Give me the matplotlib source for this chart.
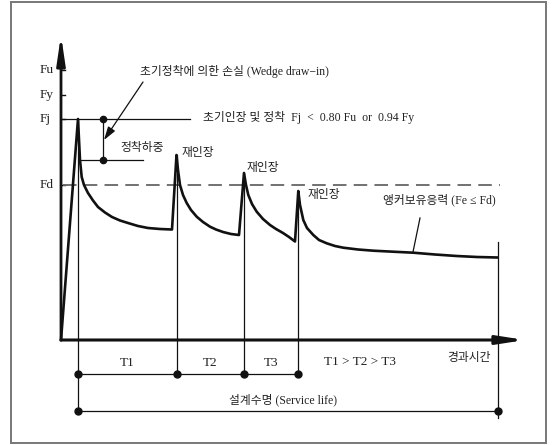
import matplotlib
matplotlib.use("Agg")
import matplotlib.pyplot as plt
from matplotlib.patches import Rectangle

plt.rcParams['font.family'] = ['Liberation Serif', 'Noto Sans CJK KR', 'DejaVu Sans']

# force levels on the vertical axis (schematic units)
level_names = ['Fu', 'Fy', 'Fj', 'Fd']
level_values = [270, 245, 221, 155]
anchor_load = 180          # 정착하중

# time of initial stressing and the three re-stressings, end of service life
stress_times = [17, 115.5, 183, 237.3]
stress_peaks = [221, 185, 167, 149]
end_time = 436.5
end_force = 82.5

# force-time curve
curve_t = [0, 17, 19, 19.5, 20.7, 23, 27, 32, 37, 44, 51, 59, 67, 77, 87, 99, 111,
           115.5, 117, 119, 122, 125.7, 130, 135.7, 142, 149, 155, 162, 170, 178,
           183, 185, 187.3, 191, 195.7, 202, 209, 215, 222, 228, 234,
           237.3, 239, 242.3, 246, 252.3, 258, 265.7, 274, 282.3, 297, 312.3, 332,
           352.3, 374, 395.7, 416, 436.5]
curve_F = [0, 221, 180, 175, 163, 155, 147, 139.5, 133, 127.5, 123, 119.5, 117, 114, 112, 111, 110.5,
           185, 170, 155, 145, 137, 130, 123.3, 118, 113.3, 110.5, 108, 106, 105,
           167, 155, 145, 136, 128.3, 121, 115, 111, 107, 103, 98.5,
           149, 135, 120, 112, 105, 100, 96.7, 94, 92.3, 90.5, 89.3, 88.3,
           87.3, 85.5, 84, 83, 82.5]

period_labels = ['T1', 'T2', 'T3']

fig = plt.figure(figsize=(5.56, 4.45), dpi=100)
ax = fig.add_axes([0, 0, 1, 1])
ax.set_xlim(-61, 495)
ax.set_ylim(-105, 340)
ax.axis('off')

# outer frame
fig.patches.append(Rectangle((11 / 556, 2 / 445), 535 / 556, 441 / 445, transform=fig.transFigure,
                             fill=False, edgecolor='#777777', lw=1.4))

ink = '#111111'
txt = '#222222'

# axes with arrows
ax.annotate('', xy=(0, 305), xytext=(0, 0),
            arrowprops=dict(arrowstyle='-|>,head_length=1.7,head_width=0.25', mutation_scale=10,
                            lw=2.0, color=ink, shrinkA=0, shrinkB=0))
ax.annotate('', xy=(464, 0), xytext=(0, 0),
            arrowprops=dict(arrowstyle='-|>,head_length=1.6,head_width=0.25', mutation_scale=10,
                            lw=2.2, color=ink, shrinkA=0, shrinkB=0))

# level ticks and labels
for name, val in zip(level_names, level_values):
    ax.plot([0, 4], [val, val], color=ink, lw=1.0)
    ax.text(-21, val, name, ha='left', va='center', fontsize=9.5, color=txt)

# Fj line and Fd dashed line
Fj = level_values[2]
Fd = level_values[3]
ax.plot([0, 129], [Fj, Fj], color=ink, lw=0.9)
ax.plot([2, 439], [Fd, Fd], color='#666666', lw=1.3, linestyle=(0, (7.5, 4)))

# anchoring load line and wedge draw-in dimension
ax.plot([19, 82], [anchor_load, anchor_load], color=ink, lw=0.9)
ax.plot([42, 42], [Fj, anchor_load], color=ink, lw=0.9, marker='o', ms=4.5)
ax.annotate('', xy=(43, 200), xytext=(82, 258),
            arrowprops=dict(arrowstyle='-|>,head_length=0.8,head_width=0.25', mutation_scale=10,
                            lw=0.9, color=ink, shrinkA=0, shrinkB=0))

# thin vertical extension lines
ax.plot([stress_times[0]] * 2, [Fj, -72], color=ink, lw=0.9)
for t, p in zip(stress_times[1:], stress_peaks[1:]):
    ax.plot([t, t], [p, -34], color=ink, lw=0.9)
ax.plot([end_time] * 2, [98, -78], color=ink, lw=0.9)

# dimension lines
ax.plot([stress_times[0], stress_times[-1]], [-34, -34], color=ink, lw=0.9)
ax.plot(stress_times, [-34] * len(stress_times), 'o', color=ink, ms=5)
ax.plot([stress_times[0], end_time], [-71, -71], color=ink, lw=0.9)
ax.plot([stress_times[0], end_time], [-71, -71], 'o', color=ink, ms=5)

# main force curve
ax.plot(curve_t, curve_F, color=ink, lw=1.9, solid_joinstyle='round')

# leader to residual force
ax.plot([359, 352], [122, 88], color=ink, lw=0.9)

# texts
fs = 8.5
ax.text(79, 268, '초기정착에 의한 손실 (Wedge draw−in)', ha='left', va='center', fontsize=fs, color=txt)
ax.text(142, 223, '초기인장 및 정착  Fj  <  0.80 Fu  or  0.94 Fy', ha='left', va='center', fontsize=fs, color=txt)
ax.text(59, 192, '정착하중', ha='left', va='center', fontsize=fs, color=txt)
ax.text(121, 187, '재인장', ha='left', va='center', fontsize=fs, color=txt)
ax.text(186, 172, '재인장', ha='left', va='center', fontsize=fs, color=txt)
ax.text(247, 145, '재인장', ha='left', va='center', fontsize=fs, color=txt)
ax.text(322, 140, '앵커보유응력 (Fe ≤ Fd)', ha='left', va='center', fontsize=fs, color=txt)

for i, lab in enumerate(period_labels):
    mid = (stress_times[i] + stress_times[i + 1]) / 2
    ax.text(mid, -23, lab, ha='center', va='center', fontsize=9.5, color=txt)
ax.text(299, -22, 'T1 > T2 > T3', ha='center', va='center', fontsize=9.5, color=txt)
ax.text(408, -18, '경과시간', ha='center', va='center', fontsize=fs, color=txt)
ax.text(222, -60, '설계수명 (Service life)', ha='center', va='center', fontsize=fs, color=txt)

fig.savefig('out.png', dpi=100)
